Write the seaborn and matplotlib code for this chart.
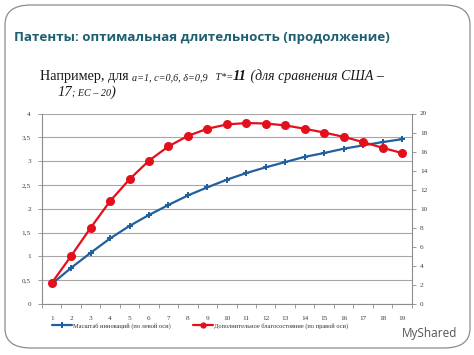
import matplotlib
matplotlib.use("Agg")
import matplotlib.pyplot as plt
import seaborn as sns
import pandas as pd
from matplotlib.patches import FancyBboxPatch
from matplotlib.lines import Line2D

# ---- data ----
periods = list(range(1, 20))
innovation_scale = [0.42, 0.76, 1.075, 1.377, 1.64, 1.87, 2.08, 2.28, 2.45, 2.61,
                    2.75, 2.87, 2.98, 3.09, 3.17, 3.26, 3.33, 3.40, 3.46]
extra_welfare = [2.2, 5.05, 8.0, 10.8, 13.1, 15.05, 16.55, 17.65, 18.4, 18.85,
                 19.0, 18.95, 18.75, 18.4, 18.0, 17.55, 17.0, 16.4, 15.85]
left_ticks = [0, 0.5, 1, 1.5, 2, 2.5, 3, 3.5, 4]
left_labels = ["0", "0,5", "1", "1,5", "2", "2,5", "3", "3,5", "4"]
right_ticks = list(range(0, 21, 2))
series_names = ["Масштаб инноваций (по левой оси)",
                "Дополнительное благосостояние (по правой оси)"]
title = "Патенты: оптимальная длительность (продолжение)"

df = pd.DataFrame({"t": periods, "scale": innovation_scale, "welfare": extra_welfare})

sns.set_style("white")
plt.rcParams["font.family"] = ["DejaVu Sans"]

W, H = 474, 355
fig = plt.figure(figsize=(W / 100, H / 100), dpi=100)
fig.patch.set_facecolor("white")

def px(x, y):
    return x / W, 1 - y / H

# slide frame
frame = FancyBboxPatch(px(5, 348), (470 - 5) / W, (348 - 5) / H,
                       boxstyle="round,pad=0,rounding_size=0.055",
                       transform=fig.transFigure, fill=False,
                       edgecolor="#8c8c8c", linewidth=0.9)
fig.patches.append(frame)

# title
fig.text(*px(14, 38), title, fontsize=9.6, fontweight="bold", family="Open Sans",
         color="#1e5f70", va="center", ha="left")

# subtitle pieces
fig.canvas.draw()
renderer = fig.canvas.get_renderer()

def run(x, y, pieces):
    for txt, size, style, weight in pieces:
        t = fig.text(x / W, 1 - y / H, txt, fontsize=size, style=style, fontweight=weight,
                     family="Liberation Serif", color="#1a1a1a", va="baseline", ha="left")
        bb = t.get_window_extent(renderer=renderer)
        x += bb.width
    return x

run(40, 80, [("Например, для ", 10.2, "normal", "normal"),
             ("a=1, c=0,6, δ=0,9", 7.3, "italic", "normal"),
             ("   T*=", 7.3, "italic", "normal"),
             ("11", 10.5, "italic", "bold"),
             (" (для сравнения США –", 10, "italic", "normal")])
run(57, 96, [("17", 10.5, "italic", "normal"),
             ("; EC – 20", 7.3, "italic", "normal"),
             (")", 10.5, "italic", "normal")])

# axes
l, b = px(42, 304)
r, t = px(411.7, 113.5)
ax = fig.add_axes([l, b, r - l, t - b])
ax2 = ax.twinx()

blue = "#21609e"
red = "#e3101c"

sns.lineplot(data=df, x="t", y="scale", ax=ax, color=blue, linewidth=1.6,
             marker="P", markersize=4, markeredgewidth=0, zorder=3)
sns.lineplot(data=df, x="t", y="welfare", ax=ax2, color=red, linewidth=1.6,
             marker="o", markersize=6.5, markeredgewidth=0, zorder=3)

ax.set_xlim(0.5, 19.5)
ax.set_ylim(0, 4)
ax2.set_ylim(0, 20)
ax.set_yticks(left_ticks)
ax.set_yticklabels(left_labels)
ax2.set_yticks(right_ticks)
ax.set_xticks(periods)
ax.set_xticks([p + 0.5 for p in range(0, 20)], minor=True)
ax.set_xlabel("")
ax.set_ylabel("")
ax2.set_ylabel("")

ax.grid(axis="y", color="#a6a6a6", linewidth=0.8)
ax.set_axisbelow(True)
ax2.grid(False)
for a in (ax, ax2):
    for s in a.spines.values():
        s.set_visible(False)
ax.spines["left"].set_visible(True)
ax.spines["left"].set_color("#8c8c8c")
ax.spines["left"].set_linewidth(0.8)
ax.spines["bottom"].set_visible(True)
ax.spines["bottom"].set_color("#8c8c8c")
ax.spines["bottom"].set_linewidth(0.8)
ax2.spines["right"].set_visible(True)
ax2.spines["right"].set_color("#8c8c8c")
ax2.spines["right"].set_linewidth(0.8)

tickfont = dict(family="Liberation Serif", size=5.2, color="#404040")
ax.tick_params(axis="y", left=True, length=3, width=0.6, color="#8c8c8c", pad=5)
ax.tick_params(axis="x", which="major", bottom=False, pad=5)
ax.tick_params(axis="x", which="minor", bottom=True, length=3, width=0.6, color="#8c8c8c")
ax2.tick_params(axis="y", right=True, length=3, width=0.6, color="#8c8c8c", pad=3)
for lab in ax.get_xticklabels() + ax.get_yticklabels() + ax2.get_yticklabels():
    lab.set_fontfamily(tickfont["family"])
    lab.set_fontsize(tickfont["size"])
    lab.set_color(tickfont["color"])

# legend
handles = [Line2D([], [], color=blue, lw=1.6, marker="P", ms=4, mew=0),
           Line2D([], [], color=red, lw=1.6, marker="o", ms=4.5, mew=0)]
leg = fig.legend(handles, series_names, loc="center", bbox_to_anchor=(px(200, 326)),
                 ncol=2, frameon=False, prop={"family": "Liberation Serif", "size": 4.6},
                 handlelength=3.2, handletextpad=0.1, columnspacing=3.5)
for txt in leg.get_texts():
    txt.set_color("#333333")

# watermark
fig.text(*px(402, 333), "MyShared", fontsize=8.5, family="Open Sans", color="#555555",
         va="center", ha="left")

fig.savefig("out.png", dpi=100)
